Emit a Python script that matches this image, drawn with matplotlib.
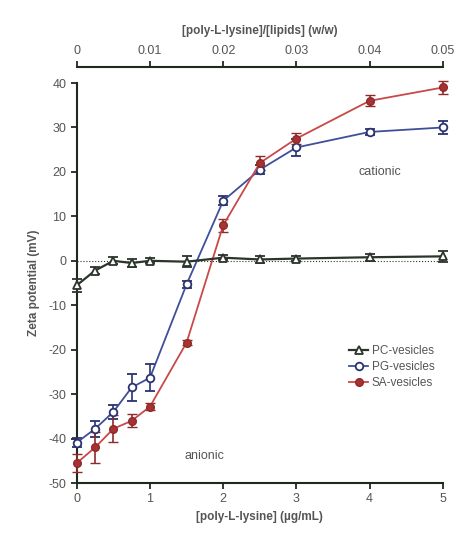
import matplotlib
matplotlib.use("Agg")
import matplotlib.pyplot as plt

plt.rcParams['font.family'] = ['Liberation Sans', 'DejaVu Sans']
plt.rcParams['axes.unicode_minus'] = False

# polylysine concentration (ug/mL)
conc = [0, 0.25, 0.5, 0.75, 1.0, 1.5, 2.0, 2.5, 3.0, 4.0, 5.0]

pc_zeta = [-5.5, -2.2, 0.0, -0.5, 0.0, -0.2, 0.7, 0.3, 0.5, 0.8, 1.0]
pc_err = [1.5, 0.8, 0.8, 1.0, 0.6, 1.2, 0.6, 0.8, 0.5, 0.8, 1.2]

pg_zeta = [-40.9, -37.8, -34.0, -28.5, -26.3, -5.3, 13.5, 20.5, 25.5, 29.0, 30.0]
pg_err = [1.0, 1.8, 1.5, 3.0, 3.0, 0.8, 1.0, 1.0, 2.0, 0.6, 1.5]

sa_zeta = [-45.5, -42.0, -37.8, -36.0, -32.8, -18.4, 8.0, 22.0, 27.5, 36.0, 39.0]
sa_err = [2.0, 3.5, 3.0, 1.5, 0.8, 0.6, 1.5, 1.5, 1.2, 1.2, 1.5]

x_ticks = [0, 1, 2, 3, 4, 5]
y_ticks = [-50, -40, -30, -20, -10, 0, 10, 20, 30, 40]
top_ticks = [0, 0.01, 0.02, 0.03, 0.04, 0.05]
top_labels = ['0', '0.01', '0.02', '0.03', '0.04', '0.05']

spine_col = '#1f2a1f'
text_col = '#555555'

fig = plt.figure(figsize=(4.57, 5.34), dpi=100)
ax = fig.add_axes([0.168, 0.0955, 0.801, 0.749])

ax.axhline(0, color='#333333', lw=0.8, ls=':', zorder=1)

pc = ax.errorbar(conc, pc_zeta, yerr=pc_err, color='#2b352b', lw=1.6, marker='^',
                 ms=6, mfc='white', mec='#2b352b', mew=1.3, capsize=3.5,
                 elinewidth=1.2, label='PC-vesicles', zorder=4)
pg = ax.errorbar(conc, pg_zeta, yerr=pg_err, color='#3f4f9a', ecolor='#2a3270',
                 lw=1.3, marker='o', ms=5.5, mfc='white', mec='#2a3270', mew=1.3,
                 capsize=3.5, elinewidth=1.2, label='PG-vesicles', zorder=3)
sa = ax.errorbar(conc, sa_zeta, yerr=sa_err, color='#c94848', ecolor='#8e2a2a',
                 lw=1.3, marker='o', ms=5.5, mfc='#a83232', mec='#8e2a2a', mew=1.0,
                 capsize=3.5, elinewidth=1.2, label='SA-vesicles', zorder=3)
for cont in (pc, pg, sa):
    for art in cont.lines[:1] + cont.lines[1] + cont.lines[2]:
        art.set_clip_on(False)

ax.set_xlim(0, 5)
ax.set_ylim(-50, 40)
ax.set_xticks(x_ticks)
ax.set_yticks(y_ticks)
for s in ['top', 'right']:
    ax.spines[s].set_visible(False)
for s in ['left', 'bottom']:
    ax.spines[s].set_color(spine_col)
    ax.spines[s].set_linewidth(1.5)
ax.tick_params(colors=spine_col, labelcolor=text_col, labelsize=9,
               width=1.3, length=4)

ax.set_xlabel('[poly-L-lysine] (\u00b5g/mL)', fontsize=8.5, fontweight='bold',
              color=text_col, labelpad=4)
ax.set_ylabel('Zeta potential (mV)', fontsize=8.5, fontweight='bold',
              color=text_col, labelpad=6)

top = ax.secondary_xaxis('top', functions=(lambda x: x / 100, lambda x: x * 100))
top.set_xticks(top_ticks)
top.set_xticklabels(top_labels)
top.spines['top'].set_position(('outward', 11.5))
top.spines['top'].set_color(spine_col)
top.spines['top'].set_linewidth(1.5)
top.tick_params(colors=spine_col, labelcolor=text_col, labelsize=9,
                width=1.3, length=4)
top.set_xlabel('[poly-L-lysine]/[lipids] (w/w)', fontsize=8.5,
               fontweight='bold', color=text_col, labelpad=8)

ax.text(4.14, 20, 'cationic', fontsize=9, color=text_col, ha='center', va='center')
ax.text(1.75, -44, 'anionic', fontsize=9, color=text_col, ha='center', va='center')

leg = ax.legend(handles=[pc.lines[0], pg.lines[0], sa.lines[0]],
                labels=['PC-vesicles', 'PG-vesicles', 'SA-vesicles'],
                loc='center right', bbox_to_anchor=(1.0, 0.29), frameon=False,
                fontsize=8.5, handlelength=1.6, handletextpad=0.3,
                labelspacing=0.35, borderaxespad=0.3)
for t in leg.get_texts():
    t.set_color(text_col)

fig.savefig('out.png', dpi=100)
